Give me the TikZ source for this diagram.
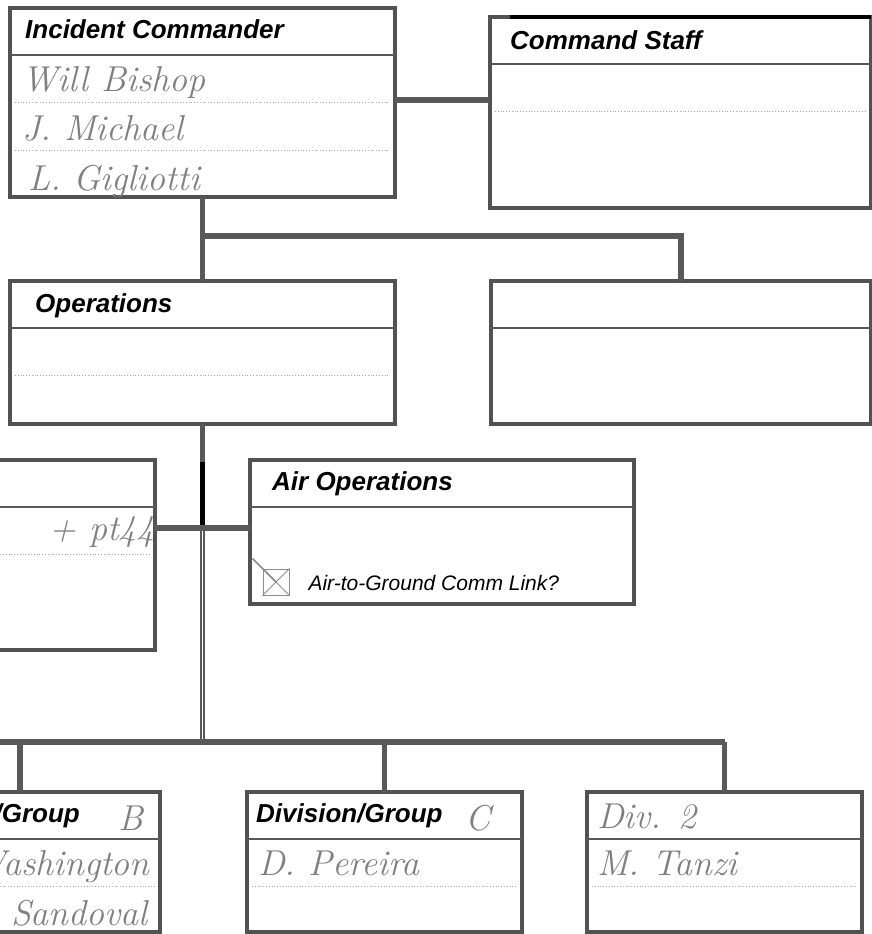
\documentclass[tikz,border=0pt]{standalone}
\usepackage{fontspec}
\newfontfamily\formfont{Liberation Sans}
\usetikzlibrary{positioning}

\tikzset{
	frm/.style={draw=black!68, line width=3.2pt, fill=white, inner sep=0pt, outer sep=0pt},
	hdr/.style={font=\formfont\bfseries\itshape\fontsize{26}{30}\selectfont, anchor=base west, inner sep=0pt},
	hand/.style={font=\itshape\fontsize{36}{40}\selectfont, text=black!50, anchor=base west, inner sep=0pt},
	link/.style={draw=black!65, line width=5.5pt},
	pipe/.style={draw=black!65, line width=1.4pt, double=white, double distance=1.8pt},
	ink/.style={draw=black, line width=5pt},
	rule/.style={draw=black!65, line width=2.2pt},
	dots/.style={draw=black!35, line width=0.8pt, dotted},
	chk/.style={draw=black!45, line width=1pt, minimum size=26pt, inner sep=0pt}
}

\begin{document}
\begin{tikzpicture}[x=1pt, y=-1pt]
	\useasboundingbox (0,0) rectangle (872,934);
	\clip (0,0) rectangle (872,934);
	% boxes
	\node[frm, minimum width=385pt, minimum height=189pt] (ic) at (202.5,102.5) {};
	\node[frm, minimum width=381pt, minimum height=191pt] (cs) at (680.5,112.5) {};
	\node[frm, minimum width=385pt, minimum height=143pt] (ops) at (202.5,352.5) {};
	\node[frm, minimum width=380pt, minimum height=143pt, right=96pt of ops] (r2) {};
	\node[frm, minimum width=185pt, minimum height=190pt] (lb) at (62.5,555) {};
	\node[frm, minimum width=384pt, minimum height=144pt] (air) at (442,532) {};
	\node[frm, minimum width=280pt, minimum height=140pt] (db) at (20,862) {};
	\node[frm, minimum width=275pt, minimum height=140pt] (dc) at (384.5,862) {};
	\node[frm, minimum width=275pt, minimum height=140pt, right=65pt of dc] (d2) {};
	\foreach \b in {ic,cs,ops,r2,lb,air,db,dc,d2}
		\draw[rule] ([yshift=-47pt]\b.north west) -- ([yshift=-47pt]\b.north east);
	\foreach \b in {ic,cs,ops,lb,db,dc,d2}
		\draw[dots] ([shift={(5pt,-94pt)}]\b.north west) -- ([shift={(-5pt,-94pt)}]\b.north east);
	\draw[dots] ([shift={(5pt,-142pt)}]ic.north west) -- ([shift={(-5pt,-142pt)}]ic.north east);
	\draw[black, line width=3.2pt] (cs.north west) ++(20pt,0) -- (cs.north east);
	% connectors
	\coordinate[below=39pt of ic.south] (tee);
	\coordinate (am) at (ops.south |- 0,528);
	\coordinate (bus) at (ops.south |- 0,742);
	\coordinate (edge) at (0,742);
	\draw[link] (ic.east |- 0,100) -- (cs.west |- 0,100);
	\draw[link] (ic.south) -- (ops.north);
	\draw[link] (tee) -| (r2.north);
	\draw[link] (ops.south) -- (am);
	\draw[ink] (am) ++(0,-66) -- (am);
	\draw[pipe] (am) -- (bus);
	\draw[link] (lb.east |- am) -- (air.west |- am);
	\draw[link] (edge) -- (d2.north |- bus);
	\foreach \b in {db,dc,d2}
		\draw[link] (\b.north |- bus) -- (\b.north);
	% printed labels
	\node[hdr] (t1) at (25,39) {Incident Commander};
	\node[hdr] (t2) at (510,50) {Command Staff};
	\node[hdr] (t3) at (35,312) {Operations};
	\node[hdr] (t4) at (272,490) {Air Operations};
	\node[hdr, anchor=base east] (t5) at (80,822) {Division/Group};
	\node[hdr] (t6) at (256,822) {Division/Group};
	\node[chk] (cb) at (276,582) {};
	\draw[black!45, line width=1pt] (cb.north west) -- (cb.south east) (cb.north east) -- (cb.south west);
	\draw[black!45, line width=1.5pt] (cb.north west) ++(-10,-10) -- (cb.center);
	\node[anchor=base west, font=\formfont\itshape\fontsize{21}{24}\selectfont] (t7) at (305,590) {Air-to-Ground Comm Link?};
	% handwriting
	\node[hand] (h1) at (22,92) {Will Bishop};
	\node[hand] (h2) at (22,140) {J. Michael};
	\node[hand] (h3) at (28,190) {L. Gigliotti};
	\node[hand, anchor=base east] (h4) at (155,540) {+ pt44};
	\node[hand] (h5) at (118,830) {B};
	\node[hand, anchor=base east] (h6) at (150,875) {Washington};
	\node[hand, anchor=base east] (h7) at (148,925) {Sandoval};
	\node[hand] (h8) at (465,830) {C};
	\node[hand] (h9) at (258,875) {D. Pereira};
	\node[hand] (h10) at (597,828) {Div. 2};
	\node[hand] (h11) at (597,875) {M. Tanzi};
\end{tikzpicture}
\end{document}
